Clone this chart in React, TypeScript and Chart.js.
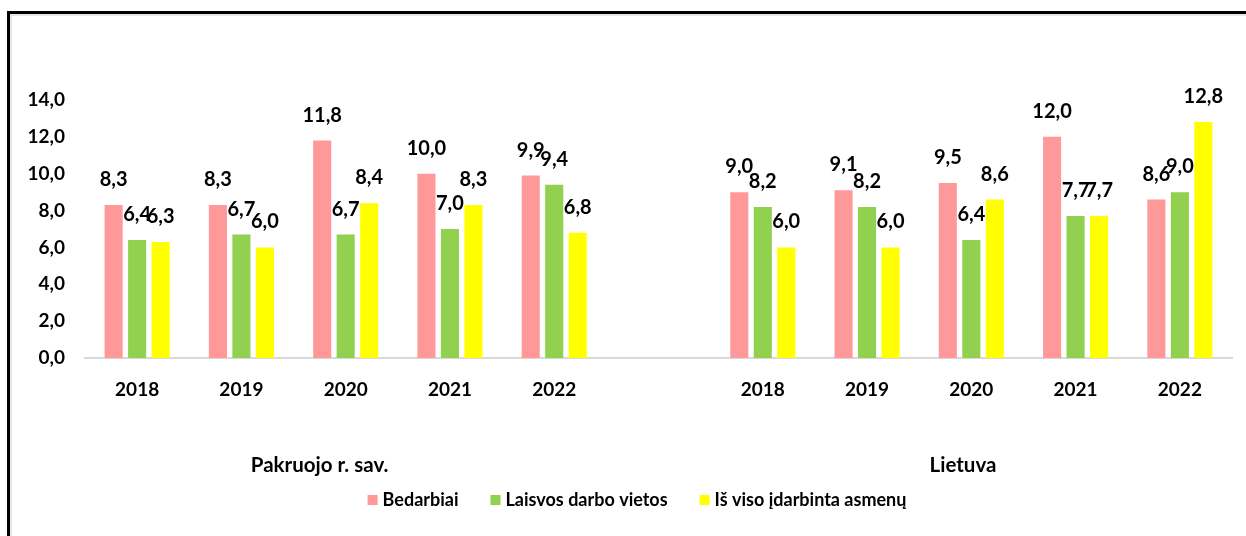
import React, { useEffect, useRef } from "react";
import { Chart, registerables } from "chart.js";

Chart.register(...registerables);

const categories = ["2018", "2019", "2020", "2021", "2022", "", "2018", "2019", "2020", "2021", "2022"];
const bedarbiai = [8.3, 8.3, 11.8, 10.0, 9.9, null, 9.0, 9.1, 9.5, 12.0, 8.6];
const laisvosVietos = [6.4, 6.7, 6.7, 7.0, 9.4, null, 8.2, 8.2, 6.4, 7.7, 9.0];
const idarbinta = [6.3, 6.0, 8.4, 8.3, 6.8, null, 6.0, 6.0, 8.6, 7.7, 12.8];
const seriesNames = ["Bedarbiai", "Laisvos darbo vietos", "Iš viso įdarbinta asmenų"];
const seriesColors = ["#FF9999", "#92D050", "#FFFF00"];
const groupLabels = ["Pakruojo r. sav.", "Lietuva"];
const groupPositions = [1.75, 7.92];
const yMin = 0;
const yMax = 14;
const yStep = 2;

const FONT = "Lato, 'Open Sans', sans-serif";
const fmt = (v: number) => v.toFixed(1).replace(".", ",");

const overlayPlugin = {
  id: "overlay",
  afterDatasetsDraw(chart: any) {
    const ctx = chart.ctx;
    ctx.save();
    // data labels
    ctx.font = `bold 20px ${FONT}`;
    ctx.fillStyle = "#000";
    ctx.textAlign = "center";
    ctx.textBaseline = "alphabetic";
    chart.data.datasets.forEach((ds: any, di: number) => {
      const meta = chart.getDatasetMeta(di);
      meta.data.forEach((bar: any, i: number) => {
        const v = ds.data[i];
        if (v === null || v === undefined) return;
        ctx.fillText(fmt(v), bar.x, bar.y - 19);
      });
    });
    // group labels
    const xs = chart.scales.x;
    ctx.font = `bold 20.5px ${FONT}`;
    groupLabels.forEach((g, i) => {
      ctx.fillText(g, xs.getPixelForValue(groupPositions[i]), 472);
    });
    // legend
    ctx.font = `bold 18px ${FONT}`;
    const box = 10, gapText = 5, gapItem = 32;
    const widths = seriesNames.map((n) => ctx.measureText(n).width);
    const total = widths.reduce((a, w) => a + box + gapText + w, 0) + gapItem * (seriesNames.length - 1);
    let x = 637 - total / 2;
    ctx.textAlign = "left";
    ctx.textBaseline = "middle";
    seriesNames.forEach((n, i) => {
      ctx.fillStyle = seriesColors[i];
      ctx.fillRect(x, 495, box, box);
      ctx.fillStyle = "#000";
      ctx.fillText(n, x + box + gapText, 500);
      x += box + gapText + widths[i] + gapItem;
    });
    ctx.restore();
  },
};

export default function App() {
  const ref = useRef<HTMLCanvasElement>(null);
  useEffect(() => {
    if (!ref.current) return;
    const chart = new Chart(ref.current, {
      type: "bar",
      data: {
        labels: categories,
        datasets: [
          { label: seriesNames[0], data: bedarbiai, backgroundColor: seriesColors[0] },
          { label: seriesNames[1], data: laisvosVietos, backgroundColor: seriesColors[1] },
          { label: seriesNames[2], data: idarbinta, backgroundColor: seriesColors[2] },
        ],
      },
      options: {
        responsive: false,
        animation: false,
        layout: { padding: { top: 100, right: 14, bottom: 0, left: 0 } },
        datasets: { bar: { categoryPercentage: 0.676, barPercentage: 0.77 } },
        plugins: { legend: { display: false }, tooltip: { enabled: false } },
        scales: {
          x: {
            grid: { display: false, drawTicks: false },
            border: { display: true, color: "#D9D9D9", width: 2 },
            ticks: { color: "#000", padding: 20, font: { family: FONT, size: 19, weight: "bold" }, maxRotation: 0, autoSkip: false },
            afterFit: (s: any) => { s.height = 178; },
          },
          y: {
            min: yMin,
            max: yMax,
            grid: { display: false, drawTicks: false },
            border: { display: false },
            ticks: { stepSize: yStep, color: "#000", padding: 20, font: { family: FONT, size: 19, weight: "bold" }, callback: (v: any) => fmt(Number(v)) },
            afterFit: (s: any) => { s.width = 85; },
          },
        },
      },
      plugins: [overlayPlugin],
    });
    return () => chart.destroy();
  }, []);
  return (
    <div style={{ position: "fixed", left: 0, top: 0, width: 1246, height: 536, background: "#fff", overflow: "hidden" }}>
      <div style={{ position: "absolute", left: 7, top: 11, width: 1300, height: 600, borderTop: "3px solid #000", borderLeft: "3px solid #000", boxShadow: "inset 2px 2px 0 #E6E6E6" }} />
      <canvas ref={ref} width={1246} height={536} style={{ position: "absolute", left: 0, top: 0 }} />
    </div>
  );
}
